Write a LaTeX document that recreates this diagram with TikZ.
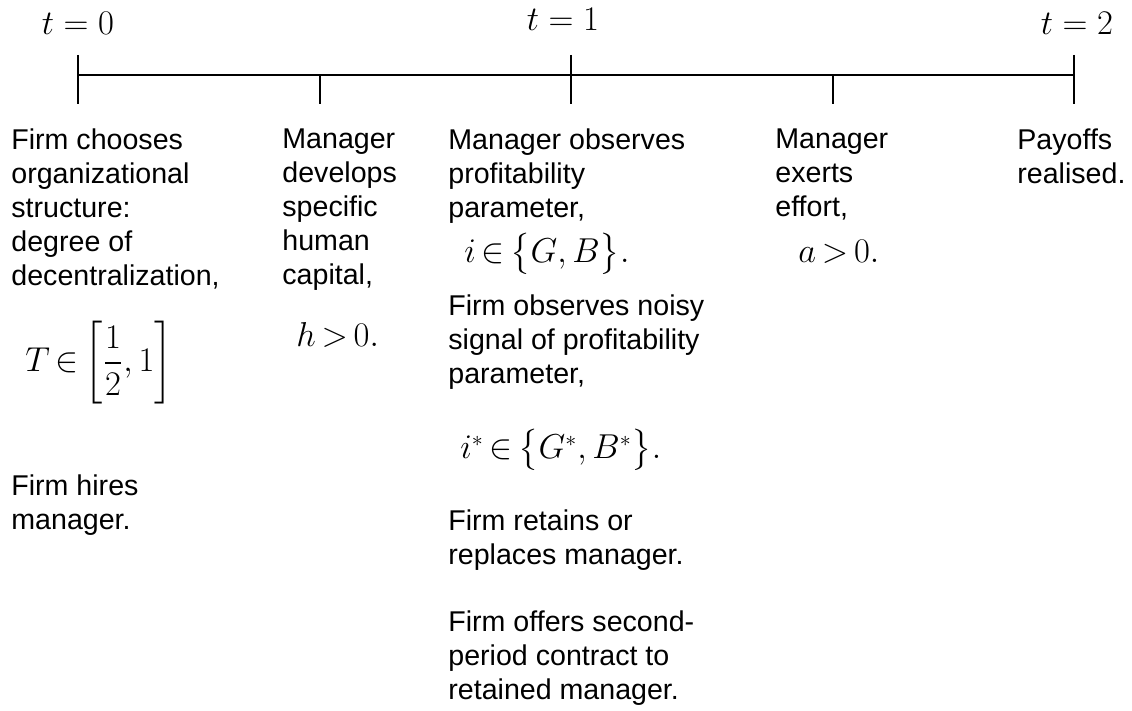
\documentclass[tikz,border=0pt]{standalone}
\usepackage{amsmath}
\usepackage{fontspec}
\setmainfont{Liberation Sans}
\usepackage{tikz}
\usetikzlibrary{positioning}

\newcommand\tightrel{\thickmuskip=3mu\relax}
\tikzset{
  event/.style={anchor=north west, align=left, inner sep=0pt,
    font=\fontsize{14.3}{17}\selectfont},
  formula/.style={anchor=west, inner sep=0pt, font=\fontsize{16}{18}\selectfont,
    execute at begin node=\tightrel},
  stamp/.style={anchor=base, inner sep=0pt, font=\fontsize{17}{18}\selectfont},
  tickline/.style={line width=0.6pt, black}
}

\begin{document}
\begin{tikzpicture}[x=0.5pt,y=-0.5pt]
  \useasboundingbox (0,0) rectangle (1132,711);
  % time axis
  \coordinate (t0) at (78,75);
  \coordinate (t1) at (571,75);
  \coordinate (t2) at (1074,75);
  \coordinate (m1) at (320,75);
  \coordinate (m2) at (833,75);
  \draw[tickline] (t0) -- (t2);
  \foreach \p in {t0,t1,t2}
    \draw[tickline] ([yshift=10pt]\p) -- ([yshift=-14.5pt]\p);
  \foreach \p in {m1,m2}
    \draw[tickline] (\p) -- ([yshift=-14.5pt]\p);

  \node[stamp] (lab0) at (78,35) {$t=0$};
  \node[stamp] (lab1) at (563,31) {$t=1$};
  \node[stamp] (lab2) at (1077,35) {$t=2$};

  % first period
  \node[event] (c1a) at (11,128) {Firm chooses\\organizational\\structure:\\degree of\\decentralization,};
  \node[formula] (c1m) at (25,363) {$T\in\left[\dfrac{1}{2},1\right]$};
  \node[event] (c1b) at (11,474) {Firm hires\\manager.};

  \node[event] (c2a) at (282,128) {Manager\\develops\\specific\\human\\capital,};
  \node[formula, anchor=base west] (c2m) at (296,347) {$h>0.$};

  % between the periods
  \node[event] (c3a) at (448,128) {Manager observes\\profitability\\parameter,};
  \node[formula] (c3m) at (464,254) {$i\in\bigl\{G,B\bigr\}.$};
  \node[event] (c3b) at (448,294) {Firm observes noisy\\signal of profitability\\parameter,};
  \node[formula] (c3n) at (460,450) {$i^{*}\in\bigl\{G^{*},B^{*}\bigr\}.$};
  \node[event] (c3c) at (448,509) {Firm retains or\\replaces manager.};
  \node[event] (c3d) at (448,610) {Firm offers second-\\period contract to\\retained manager.};

  % second period
  \node[event] (c4a) at (775,128) {Manager\\exerts\\effort,};
  \node[formula, anchor=base west] (c4m) at (798,263) {$a>0.$};
  \node[event] (c5a) at (1017,128) {Payoffs\\realised.};
\end{tikzpicture}
\end{document}
